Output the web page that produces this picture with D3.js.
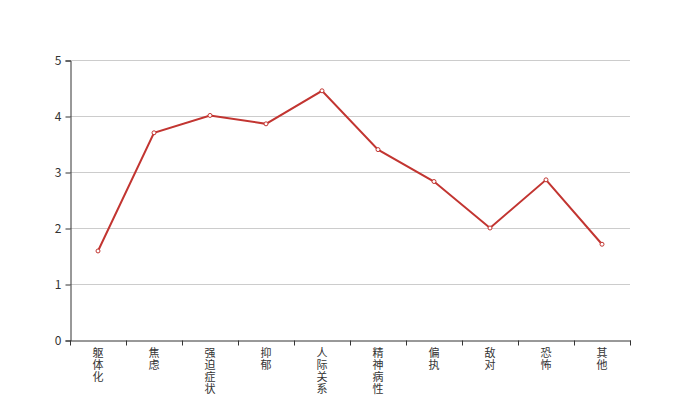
<!DOCTYPE html>
<html><head><meta charset="utf-8">
<script src="https://cdn.jsdelivr.net/npm/d3@7"></script>
<style>body{margin:0;background:#fff}svg{display:block}</style>
</head><body>
<svg id="c" width="700" height="400"></svg>
<script>
const categories = ["躯体化","焦虑","强迫症状","抑郁","人际关系","精神病性","偏执","敌对","恐怖","其他"];
const values = [1.59, 3.70, 4.01, 3.86, 4.45, 3.40, 2.83, 2.00, 2.86, 1.71];
const yTicks = [0,1,2,3,4,5];

(function(){
const svg = d3.select("#c");
const mLeft = 70, mRight = 630, mTop = 60, mBottom = 340;
const x = d3.scaleBand().domain(categories).range([mLeft, mRight]);
const y = d3.scaleLinear().domain([0,5]).range([mBottom, mTop]);
const font = "'Noto Sans CJK SC', 'Microsoft YaHei', sans-serif";

// grid
svg.append("g").selectAll("line").data(yTicks.filter(d=>d>0)).join("line")
  .attr("x1", mLeft).attr("x2", mRight)
  .attr("y1", d=>y(d)+0.5).attr("y2", d=>y(d)+0.5)
  .attr("stroke", "#ccc").attr("stroke-width", 1);

// y axis
const ya = svg.append("g").attr("transform", `translate(${mLeft+0.5},0.5)`)
  .call(d3.axisLeft(y).tickValues(yTicks).tickFormat(d3.format("d")).tickSize(5).tickPadding(4));
ya.select(".domain").attr("stroke", "#333");
ya.selectAll(".tick line").attr("stroke", "#333");
ya.selectAll(".tick text").attr("fill", "#333").style("font-family", font).style("font-size", "12px");

// x axis
const xa = svg.append("g").attr("transform", `translate(0.5,${mBottom+0.5})`)
  .call(d3.axisBottom(x).tickSize(0).tickFormat(""));
xa.select(".domain").attr("stroke", "#333");
const bounds = categories.map(c=>x(c)).concat([mRight]);
xa.append("g").selectAll("line").data(bounds).join("line")
  .attr("x1", d=>d).attr("x2", d=>d).attr("y1", 0).attr("y2", 5).attr("stroke", "#333");

// vertical labels
svg.append("g").selectAll("text").data(categories).join("text")
  .attr("x", c => x(c) + x.bandwidth()/2)
  .attr("y", 347)
  .attr("fill", "#333")
  .style("font-family", font).style("font-size", "11px")
  .style("writing-mode", "vertical-rl").style("text-orientation", "upright")
  .style("letter-spacing", "1px")
  .text(c => c);

// line
const line = d3.line().x((d,i)=>x(categories[i]) + x.bandwidth()/2).y(d=>y(d));
svg.append("path").datum(values).attr("d", line)
  .attr("fill", "none").attr("stroke", "#c23531").attr("stroke-width", 2);
svg.append("g").selectAll("circle").data(values).join("circle")
  .attr("cx", (d,i)=>x(categories[i]) + x.bandwidth()/2).attr("cy", d=>y(d))
  .attr("r", 2).attr("fill", "#fff").attr("stroke", "#c23531").attr("stroke-width", 1);
})();
</script>
</body></html>
